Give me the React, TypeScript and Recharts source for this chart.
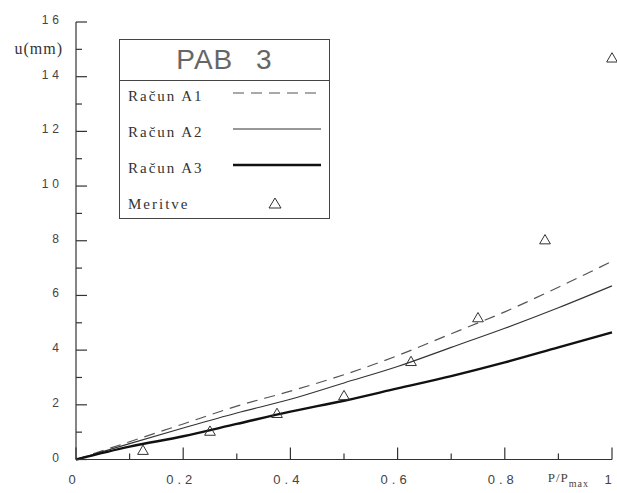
import React from 'react';
import { ComposedChart, Line, Scatter, XAxis, YAxis, ZAxis } from 'recharts';

// load ratio P/Pmax at which the computed curves were read
const loadSteps = [0, 0.1, 0.2, 0.3, 0.4, 0.5, 0.6, 0.7, 0.8, 0.9, 1.0];
// computed displacement u (mm)
const racunA1 = [0, 0.65, 1.3, 1.95, 2.5, 3.1, 3.8, 4.6, 5.4, 6.3, 7.25];
const racunA2 = [0, 0.58, 1.15, 1.7, 2.2, 2.8, 3.4, 4.1, 4.8, 5.55, 6.35];
const racunA3 = [0, 0.47, 0.85, 1.3, 1.75, 2.15, 2.6, 3.05, 3.55, 4.1, 4.65];

// measurements (Meritve)
const meritveX = [0.125, 0.25, 0.375, 0.5, 0.625, 0.75, 0.875, 1.0];
const meritveY = [0.3, 1.0, 1.65, 2.3, 3.55, 5.15, 8.0, 14.65];

const xTicks = [0, 0.1, 0.2, 0.3, 0.4, 0.5, 0.6, 0.7, 0.8, 0.9, 1.0];
const xMajor = [0, 0.2, 0.4, 0.6, 0.8, 1.0];
const yTicks = [0, 1, 2, 3, 4, 5, 6, 7, 8, 9, 10, 11, 12, 13, 14, 15, 16];
const yMajor = [0, 2, 4, 6, 8, 10, 12, 14, 16];

const series = [
  { key: 'a1', name: 'Račun A1', color: '#555', width: 1.2, dash: '11 7' },
  { key: 'a2', name: 'Račun A2', color: '#333', width: 1.1, dash: undefined },
  { key: 'a3', name: 'Račun A3', color: '#111', width: 2.4, dash: undefined },
];

const lineData = loadSteps.map((x, i) => ({ x, a1: racunA1[i], a2: racunA2[i], a3: racunA3[i] }));
const meritve = meritveX.map((x, i) => ({ x, y: meritveY[i] }));

const AXIS = '#333';
const numFont = "'Liberation Sans', Arial, sans-serif";
const serifFont = "'Liberation Serif', 'DejaVu Serif', serif";

const XTick = (props: any) => {
  const { x, y, payload } = props;
  const v = payload.value;
  const major = xMajor.includes(v);
  return (
    <g>
      <line x1={x} x2={x} y1={y} y2={y - (major ? 12 : 6)} stroke={AXIS} strokeWidth={1.2} />
      {major && (
        <text x={x - 2} y={y + 24} textAnchor="middle" fontFamily={numFont} fontSize={13} fill="#444" letterSpacing={4}>
          {String(v)}
        </text>
      )}
    </g>
  );
};

const YTick = (props: any) => {
  const { x, y, payload } = props;
  const v = payload.value;
  const major = yMajor.includes(v);
  return (
    <g>
      <line x1={x} x2={x + (major ? 11 : 6)} y1={y} y2={y} stroke={AXIS} strokeWidth={1.2} />
      {major && (
        <text x={x - 13} y={y + 2} textAnchor="end" fontFamily={numFont} fontSize={12} fill="#444" letterSpacing={4}>
          {String(v)}
        </text>
      )}
      {v === 15 && (
        <text x={x - 13} y={y + 5} textAnchor="end" fontFamily={serifFont} fontSize={16} fill="#333" letterSpacing={1}>
          u(mm)
        </text>
      )}
    </g>
  );
};

const XTitle = (props: any) => {
  const { viewBox } = props;
  const tx = viewBox.x + viewBox.width * 0.88;
  const ty = viewBox.y + 22;
  return (
    <text x={tx} y={ty} fontFamily={serifFont} fontSize={13} fill="#444" letterSpacing={1}>
      P/P
      <tspan dy={5} fontSize={10}>max</tspan>
    </text>
  );
};

const LegendBox = () => (
  <div
    style={{
      position: 'absolute',
      left: 119,
      top: 39,
      width: 211,
      height: 180,
      border: '1.5px solid #444',
      background: '#fff',
      boxSizing: 'border-box',
    }}
  >
    <div
      style={{
        height: 41,
        borderBottom: '1.5px solid #444',
        boxSizing: 'border-box',
        textAlign: 'center',
        fontFamily: numFont,
        fontSize: 28,
        lineHeight: '40px',
        color: '#666',
        letterSpacing: 1,
        wordSpacing: 14,
      }}
    >
      PAB 3
    </div>
    <svg width={209} height={137} style={{ position: 'absolute', left: 0, top: 41 }}>
      {series.map((s, i) => {
        const cy = [15, 51, 87][i];
        return (
          <g key={s.key}>
            <text x={8} y={cy + 5} fontFamily={serifFont} fontSize={15} fill="#333" letterSpacing={2}>
              {s.name}
            </text>
            <line x1={113} x2={201} y1={cy - 3} y2={cy - 3} stroke={s.color} strokeWidth={s.width} strokeDasharray={s.dash} />
          </g>
        );
      })}
      <text x={8} y={128} fontFamily={serifFont} fontSize={15} fill="#333" letterSpacing={2}>
        Meritve
      </text>
      <path d="M155,117 L161,127 L149,127 Z" fill="none" stroke="#333" strokeWidth={1} />
    </svg>
  </div>
);

export default function App() {
  return (
    <div style={{ position: 'absolute', left: 0, top: 0, width: 617, height: 493, background: '#fff' }}>
      <ComposedChart width={617} height={493} data={lineData} margin={{ top: 22, right: 5, bottom: 0, left: 0 }}>
        <XAxis
          dataKey="x"
          type="number"
          domain={[0, 1]}
          ticks={xTicks}
          interval={0}
          height={33.5}
          tickSize={0}
          tickMargin={0}
          tickLine={false}
          axisLine={{ stroke: AXIS, strokeWidth: 1.2 }}
          tick={<XTick />}
          label={<XTitle />}
        />
        <YAxis
          type="number"
          domain={[0, 16]}
          ticks={yTicks}
          interval={0}
          width={76}
          tickSize={0}
          tickMargin={0}
          tickLine={false}
          axisLine={{ stroke: AXIS, strokeWidth: 1.2 }}
          tick={<YTick />}
        />
        <ZAxis range={[50, 50]} />
        {series.map((s) => (
          <Line
            key={s.key}
            dataKey={s.key}
            name={s.name}
            type="monotone"
            stroke={s.color}
            strokeWidth={s.width}
            strokeDasharray={s.dash}
            dot={false}
            activeDot={false}
            isAnimationActive={false}
          />
        ))}
        <Scatter
          name="Meritve"
          data={meritve}
          dataKey="y"
          shape="triangle"
          fill="none"
          stroke="#333"
          strokeWidth={1}
          isAnimationActive={false}
        />
      </ComposedChart>
      <LegendBox />
    </div>
  );
}
